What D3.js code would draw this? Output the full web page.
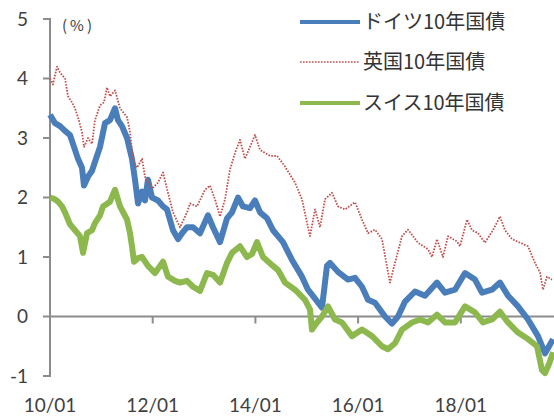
<!DOCTYPE html>
<html>
<head>
<meta charset="utf-8">
<script src="https://cdn.jsdelivr.net/npm/d3@7"></script>
<style>
  body { margin: 0; background: #fff; }
  svg { display: block; }
</style>
</head>
<body>
<div id="chart"></div>
<script>
// 10y government bond yields (%); dates as decimal years
const germany = [
  [2010.000,3.39],[2010.097,3.25],[2010.195,3.20],[2010.292,3.12],[2010.389,3.05],[2010.487,2.80],
  [2010.545,2.65],[2010.623,2.50],[2010.662,2.20],[2010.740,2.35],[2010.818,2.45],[2010.876,2.60],
  [2010.974,2.85],[2011.071,3.25],[2011.168,3.30],[2011.266,3.50],[2011.324,3.30],[2011.402,3.20],
  [2011.500,3.00],[2011.597,2.65],[2011.655,2.30],[2011.714,1.90],[2011.792,2.10],[2011.850,1.95],
  [2011.908,2.30],[2011.986,2.00],[2012.103,1.95],[2012.201,1.85],[2012.278,1.80],[2012.395,1.45],
  [2012.493,1.30],[2012.571,1.40],[2012.668,1.50],[2012.785,1.50],[2012.921,1.40],[2013.077,1.70],
  [2013.174,1.50],[2013.311,1.25],[2013.447,1.65],[2013.544,1.75],[2013.661,2.00],[2013.758,1.85],
  [2013.895,1.82],[2013.992,1.95],[2014.090,1.75],[2014.226,1.65],[2014.343,1.45],[2014.440,1.35],
  [2014.537,1.25],[2014.713,0.95],[2014.907,0.67],[2015.024,0.45],[2015.161,0.30],[2015.297,0.15],
  [2015.394,0.85],[2015.453,0.90],[2015.608,0.75],[2015.803,0.62],[2015.940,0.65],[2016.076,0.50],
  [2016.193,0.28],[2016.329,0.23],[2016.524,0.00],[2016.660,-0.12],[2016.777,0.00],[2016.913,0.25],
  [2017.108,0.42],[2017.303,0.35],[2017.536,0.57],[2017.692,0.40],[2017.887,0.45],[2018.082,0.73],
  [2018.276,0.62],[2018.413,0.40],[2018.607,0.45],[2018.763,0.57],[2018.919,0.35],[2019.114,0.17],
  [2019.309,-0.05],[2019.503,-0.33],[2019.640,-0.62],[2019.718,-0.50],[2019.796,-0.38]
];

const uk = [
  [2010.000,4.00],[2010.058,3.90],[2010.136,4.20],[2010.195,4.10],[2010.292,4.00],[2010.351,3.70],
  [2010.428,3.60],[2010.487,3.50],[2010.545,3.35],[2010.623,3.10],[2010.662,2.85],[2010.740,3.00],
  [2010.818,2.90],[2010.876,3.30],[2010.974,3.55],[2011.052,3.60],[2011.110,3.85],[2011.168,3.70],
  [2011.266,3.80],[2011.363,3.50],[2011.500,3.35],[2011.558,3.10],[2011.616,2.65],[2011.694,2.50],
  [2011.792,2.65],[2011.850,2.35],[2011.986,2.15],[2012.103,2.25],[2012.201,2.42],[2012.298,2.08],
  [2012.395,1.75],[2012.532,1.50],[2012.668,1.75],[2012.726,1.90],[2012.863,1.85],[2013.018,2.13],
  [2013.116,2.20],[2013.213,1.97],[2013.311,1.68],[2013.408,1.97],[2013.505,2.47],[2013.603,2.75],
  [2013.700,2.97],[2013.797,2.65],[2013.895,2.85],[2013.992,3.05],[2014.090,2.80],[2014.284,2.70],
  [2014.421,2.70],[2014.577,2.52],[2014.771,2.25],[2014.907,1.97],[2015.024,1.50],[2015.063,1.35],
  [2015.161,1.80],[2015.258,1.50],[2015.355,1.97],[2015.492,2.08],[2015.608,1.85],[2015.745,1.80],
  [2015.940,1.92],[2016.076,1.63],[2016.193,1.40],[2016.329,1.46],[2016.465,1.30],[2016.563,0.84],
  [2016.621,0.57],[2016.718,0.90],[2016.855,1.35],[2016.972,1.46],[2017.166,1.24],[2017.361,1.13],
  [2017.439,1.00],[2017.536,1.30],[2017.653,1.00],[2017.751,1.35],[2017.926,1.26],[2017.984,1.18],
  [2018.121,1.63],[2018.218,1.45],[2018.335,1.40],[2018.471,1.24],[2018.627,1.45],[2018.763,1.68],
  [2018.861,1.45],[2018.997,1.30],[2019.153,1.24],[2019.309,1.18],[2019.445,0.90],[2019.542,0.74],
  [2019.601,0.45],[2019.678,0.67],[2019.776,0.62]
];

const swiss = [
  [2010.000,2.00],[2010.097,1.97],[2010.156,1.93],[2010.234,1.85],[2010.292,1.75],[2010.389,1.55],
  [2010.487,1.45],[2010.584,1.35],[2010.643,1.07],[2010.721,1.40],[2010.818,1.45],[2010.876,1.57],
  [2010.974,1.70],[2011.032,1.85],[2011.168,1.93],[2011.266,2.13],[2011.363,1.85],[2011.500,1.63],
  [2011.558,1.40],[2011.597,1.18],[2011.636,0.92],[2011.714,0.98],[2011.792,1.00],[2011.908,0.85],
  [2012.045,0.73],[2012.201,0.92],[2012.298,0.67],[2012.434,0.60],[2012.532,0.57],[2012.668,0.60],
  [2012.785,0.50],[2012.921,0.43],[2013.057,0.73],[2013.174,0.70],[2013.311,0.57],[2013.447,0.90],
  [2013.544,1.07],[2013.700,1.18],[2013.836,1.00],[2013.934,1.05],[2014.031,1.25],[2014.148,1.00],
  [2014.343,0.85],[2014.440,0.78],[2014.577,0.57],[2014.771,0.45],[2014.966,0.28],[2015.063,0.12],
  [2015.102,-0.22],[2015.200,-0.10],[2015.297,0.00],[2015.414,0.17],[2015.550,-0.05],[2015.686,-0.10],
  [2015.881,-0.33],[2016.076,-0.22],[2016.271,-0.33],[2016.465,-0.50],[2016.582,-0.55],[2016.718,-0.45],
  [2016.855,-0.22],[2017.050,-0.10],[2017.205,-0.05],[2017.361,-0.10],[2017.536,0.03],[2017.692,-0.10],
  [2017.887,-0.10],[2018.082,0.17],[2018.276,0.07],[2018.432,-0.10],[2018.607,-0.05],[2018.763,0.08],
  [2018.919,-0.10],[2019.114,-0.27],[2019.309,-0.38],[2019.484,-0.50],[2019.581,-0.90],[2019.640,-0.95],
  [2019.718,-0.80],[2019.796,-0.60]
];

const seriesNames = ["ドイツ10年国債", "英国10年国債", "スイス10年国債"];
const xTickYears = [2010, 2012, 2014, 2016, 2018];
const xTickLabels = ["10/01", "12/01", "14/01", "16/01", "18/01"];
const yTicks = [-1, 0, 1, 2, 3, 4, 5];
const unitLabel = "(%)";

const W = 554, H = 419;

const svg = d3.select("#chart").append("svg")
    .attr("width", W)
    .attr("height", H);

const x = d3.scaleLinear().domain([2010, 2020]).range([50, 563.5]);
const y = d3.scaleLinear().domain([-1, 5]).range([376, 19]);

const axisColor = "#8c8c8c";
const textColor = "#404040";

// axis lines and ticks as thin filled rects (from the scales)
const ax = svg.append("g");
ax.append("rect")
    .attr("x", x(2010) - 1).attr("y", y(5) - 1)
    .attr("width", 2).attr("height", y(-1) - y(5) + 2)
    .attr("fill", axisColor);
ax.selectAll(".ytick").data(yTicks).join("rect")
    .attr("class", "ytick")
    .attr("x", x(2010) - 7).attr("y", d => y(d) - 1)
    .attr("width", 7).attr("height", 2)
    .attr("fill", axisColor);
ax.append("rect")
    .attr("x", x(2010)).attr("y", y(0) - 1)
    .attr("width", W - x(2010)).attr("height", 2)
    .attr("fill", axisColor);
ax.selectAll(".xtick").data(xTickYears.slice(1)).join("rect")
    .attr("class", "xtick")
    .attr("x", d => x(d) - 1).attr("y", y(0))
    .attr("width", 2).attr("height", 7)
    .attr("fill", axisColor);

// y tick labels via the axis generator
const yAxis = svg.append("g")
    .attr("transform", "translate(50,0)")
    .call(d3.axisLeft(y).tickValues(yTicks).tickSize(6).tickPadding(16).tickSizeOuter(0)
        .tickFormat(d => (d < 0 ? "-" : "") + Math.abs(d)));
yAxis.select(".domain").remove();
yAxis.selectAll(".tick line").remove();
yAxis.selectAll("text")
    .attr("fill", textColor)
    .style("font-family", "Lato, 'Liberation Sans', sans-serif")
    .style("font-size", "19px");

// year labels at the bottom
svg.append("g").selectAll("text")
    .data(xTickYears)
    .join("text")
    .attr("x", d => x(d))
    .attr("y", 412)
    .attr("text-anchor", "middle")
    .attr("fill", textColor)
    .style("font-family", "Lato, 'Liberation Sans', sans-serif")
    .style("font-size", "19px")
    .text((d, i) => xTickLabels[i]);

svg.append("text")
    .attr("x", 62)
    .attr("y", 31)
    .attr("fill", textColor)
    .style("font-family", "'Noto Sans CJK JP', sans-serif")
    .style("font-size", "15px")
    .style("letter-spacing", "3px")
    .text(unitLabel);

const lineGen = d3.line()
    .x(d => x(d[0]))
    .y(d => y(d[1]));

const styles = [
  {color: "#4a7ebb", width: 6, dash: null},
  {color: "#c0504d", width: 1.8, dash: "1.6,1.4"},
  {color: "#8cb84e", width: 6, dash: null}
];
const allSeries = [germany, uk, swiss];

allSeries.forEach(function(s, i) {
    svg.append("path")
        .datum(s)
        .attr("d", lineGen)
        .attr("fill", "none")
        .attr("stroke", styles[i].color)
        .attr("stroke-width", styles[i].width)
        .attr("stroke-dasharray", styles[i].dash)
        .attr("stroke-linejoin", "round");
});

// legend
const legend = svg.append("g");
const legendY = [22, 62, 103];
seriesNames.forEach(function(name, i) {
    legend.append("line")
        .attr("x1", 300).attr("x2", 360)
        .attr("y1", legendY[i]).attr("y2", legendY[i])
        .attr("stroke", styles[i].color)
        .attr("stroke-width", i === 1 ? 1.6 : 4)
        .attr("stroke-dasharray", styles[i].dash);
    legend.append("text")
        .attr("x", 363)
        .attr("y", legendY[i])
        .attr("dy", "0.36em")
        .attr("fill", "#333")
        .style("font-family", "'Noto Sans CJK JP', sans-serif")
        .style("font-size", "20px")
        .text(name);
});
</script>
</body>
</html>
